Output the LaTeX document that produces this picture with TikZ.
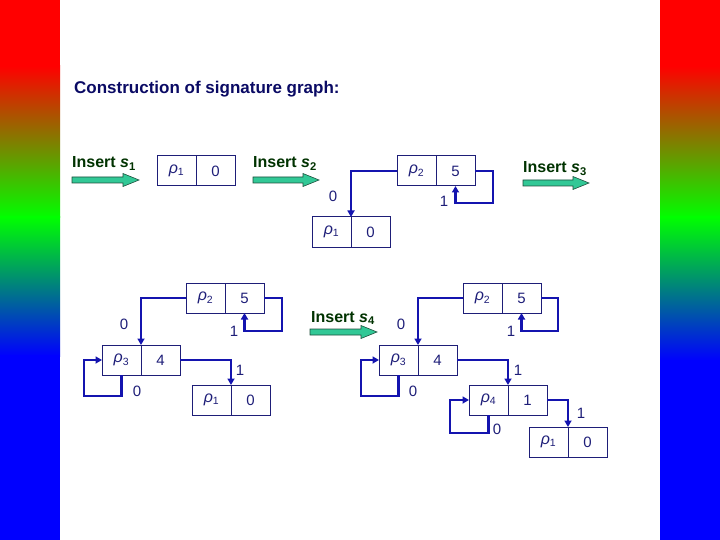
\documentclass[tikz,border=0pt]{standalone}
\usepackage{fontspec}
\setmainfont{Liberation Sans}
\usetikzlibrary{arrows.meta}
\definecolor{titlec}{RGB}{10,10,100}
\definecolor{boxc}{RGB}{30,30,120}
\definecolor{linkc}{RGB}{20,20,175}
\definecolor{insg}{RGB}{0,50,0}
\definecolor{arrf}{RGB}{50,200,150}
\definecolor{arrd}{RGB}{30,80,60}
\newcommand\rec[5]{%
  \node[cell] (#1) at (#2,#3) {{\fontsize{16}{16}\selectfont\itshape ρ}\textsubscript{#4}};
  \node[cell,anchor=north west] (#1v) at (#1.north east) {#5};}
\newcommand\blockarr[3]{% x0, x1, yc
  \draw[blockarrow] (#1,#3-3) -- (#2-16,#3-3) -- (#2-16,#3-6.5) -- (#2,#3)
    -- (#2-16,#3+6.5) -- (#2-16,#3+3) -- (#1,#3+3) -- cycle;}
\begin{document}
\begin{tikzpicture}[x=1pt,y=-1pt,
  cell/.style={draw=boxc,line width=1pt,minimum width=39pt,minimum height=30pt,
    inner sep=0pt,outer sep=0pt,anchor=north west,text=boxc,font=\fontsize{15}{15}\selectfont},
  link/.style={draw=linkc,line width=2.9pt,-{Triangle[length=6.5pt,width=7pt]}},
  lab/.style={text=boxc,inner sep=0pt,font=\fontsize{15}{15}\selectfont},
  ins/.style={text=insg,inner sep=0pt,anchor=base west,font=\fontsize{16}{16}\selectfont\bfseries},
  blockarrow/.style={fill=arrf,draw=arrd,line width=0.6pt}]
\useasboundingbox (0,0) rectangle (720,540);
% side bands
\fill[red] (0,0) rectangle (60,67);
\shade[top color=red,bottom color=green] (0,66) rectangle (60,218);
\shade[top color=green,bottom color=blue] (0,217) rectangle (60,356);
\fill[blue] (0,355) rectangle (60,540);
\fill[red] (660,0) rectangle (720,67);
\shade[top color=red,bottom color=green] (660,66) rectangle (720,218);
\shade[top color=green,bottom color=blue] (660,217) rectangle (720,361);
\fill[blue] (660,360) rectangle (720,540);
% title
\node[text=titlec,inner sep=0pt,anchor=base west,font=\fontsize{17}{17}\selectfont\bfseries] (title) at (74,94) {Construction of signature graph:};
% insert labels and arrows
\node[ins] (i1) at (72,168) {Insert \textit{s}\textsubscript{1}};
\blockarr{72}{139}{180}
\node[ins] (i2) at (253,168) {Insert \textit{s}\textsubscript{2}};
\blockarr{253}{319}{180}
\node[ins] (i3) at (523,173) {Insert \textit{s}\textsubscript{3}};
\blockarr{523}{589}{183}
\node[ins] (i4) at (311,322) {Insert \textit{s}\textsubscript{4}};
\blockarr{310}{377}{332}
% records
\rec{a1}{157}{156}{1}{0}
\rec{b2}{397}{156}{2}{5}
\rec{b1}{312}{217}{1}{0}
\rec{c2}{186}{283}{2}{5}
\rec{c3}{102}{345}{3}{4}
\rec{c1}{192}{385}{1}{0}
\rec{d2}{463}{283}{2}{5}
\rec{d3}{379}{345}{3}{4}
\rec{d4}{469}{385}{4}{1}
\rec{d1}{529}{427}{1}{0}
% connectors
\draw[link] (b2.west) -| (b1.north east);
\draw[link] (b2v.east) -- ++(18,0) |- ([yshift=-17pt]b2v.south) -- (b2v.south);
\draw[link] (c2.west) -| (c3.north east);
\draw[link] (c2v.east) -- ++(18,0) |- ([yshift=-18pt]c2v.south) -- (c2v.south);
\draw[link] (c3v.east) -| (c1.north east);
\draw[link] (c3.south) -- ++(0,21) -| ([xshift=-18pt]c3.west) -- (c3.west);
\draw[link] (d2.west) -| (d3.north east);
\draw[link] (d2v.east) -- ++(17,0) |- ([yshift=-18pt]d2v.south) -- (d2v.south);
\draw[link] (d3.south) -- ++(0,21) -| ([xshift=-18pt]d3.west) -- (d3.west);
\draw[link] (d3v.east) -| (d4.north east);
\draw[link] (d4.south) -- ++(0,18) -| ([xshift=-19pt]d4.west) -- (d4.west);
\draw[link] (d4v.east) -| (d1.north east);
% labels
\node[lab] (l1) at (333,196) {0};
\node[lab] (l2) at (444,201) {1};
\node[lab] (l3) at (124,324) {0};
\node[lab] (l4) at (234,331) {1};
\node[lab] (l5) at (240,370) {1};
\node[lab] (l6) at (137,391) {0};
\node[lab] (l7) at (401,324) {0};
\node[lab] (l8) at (511,331) {1};
\node[lab] (l9) at (518,370) {1};
\node[lab] (l10) at (413,391) {0};
\node[lab] (l11) at (497,429) {0};
\node[lab] (l12) at (581,413) {1};
\end{tikzpicture}
\end{document}
